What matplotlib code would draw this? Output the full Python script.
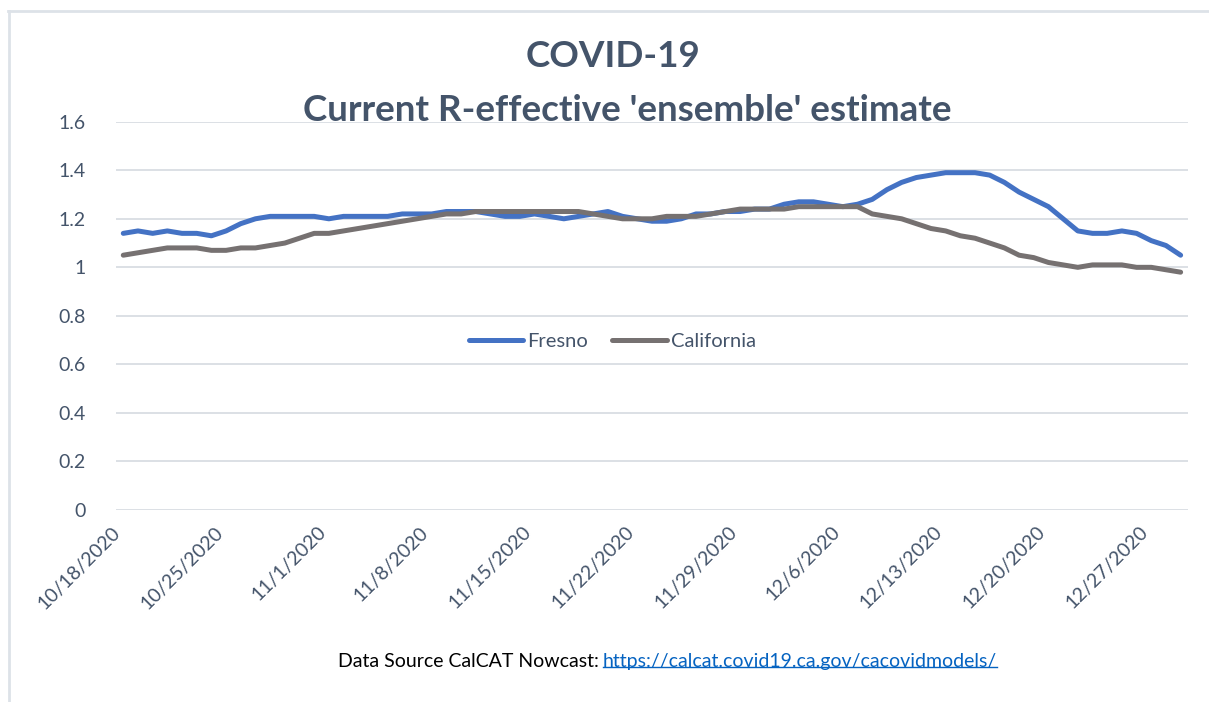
"""COVID-19 R-effective ensemble estimate: Fresno vs California."""

import datetime as dt

import matplotlib.pyplot as plt
import matplotlib.transforms as mtransforms
from matplotlib.lines import Line2D

plt.rcParams["font.family"] = ["Lato", "DejaVu Sans"]

# daily values from 10/18/2020
start = dt.date(2020, 10, 18)
fresno = [
    1.14, 1.15, 1.14, 1.15, 1.14, 1.14, 1.13, 1.15, 1.18, 1.20,
    1.21, 1.21, 1.21, 1.21, 1.20, 1.21, 1.21, 1.21, 1.21, 1.22,
    1.22, 1.22, 1.23, 1.23, 1.23, 1.22, 1.21, 1.21, 1.22, 1.21,
    1.20, 1.21, 1.22, 1.23, 1.21, 1.20, 1.19, 1.19, 1.20, 1.22,
    1.22, 1.23, 1.23, 1.24, 1.24, 1.26, 1.27, 1.27, 1.26, 1.25,
    1.26, 1.28, 1.32, 1.35, 1.37, 1.38, 1.39, 1.39, 1.39, 1.38,
    1.35, 1.31, 1.28, 1.25, 1.20, 1.15, 1.14, 1.14, 1.15, 1.14,
    1.11, 1.09, 1.05,
]
california = [
    1.05, 1.06, 1.07, 1.08, 1.08, 1.08, 1.07, 1.07, 1.08, 1.08,
    1.09, 1.10, 1.12, 1.14, 1.14, 1.15, 1.16, 1.17, 1.18, 1.19,
    1.20, 1.21, 1.22, 1.22, 1.23, 1.23, 1.23, 1.23, 1.23, 1.23,
    1.23, 1.23, 1.22, 1.21, 1.20, 1.20, 1.20, 1.21, 1.21, 1.21,
    1.22, 1.23, 1.24, 1.24, 1.24, 1.24, 1.25, 1.25, 1.25, 1.25,
    1.25, 1.22, 1.21, 1.20, 1.18, 1.16, 1.15, 1.13, 1.12, 1.10,
    1.08, 1.05, 1.04, 1.02, 1.01, 1.00, 1.01, 1.01, 1.01, 1.00,
    1.00, 0.99, 0.98,
]
y_ticks = [0, 0.2, 0.4, 0.6, 0.8, 1, 1.2, 1.4, 1.6]
y_labels = ["0", "0.2", "0.4", "0.6", "0.8", "1", "1.2", "1.4", "1.6"]

days = list(range(len(fresno)))
tick_days = days[::7]
tick_labels = []
for d in tick_days:
    date = start + dt.timedelta(days=d)
    tick_labels.append(f"{date.month}/{date.day}/{date.year}")

TEXT = "#44546A"
GRID = "#D9DDE3"

fig = plt.figure(figsize=(12.09, 7.02), dpi=100)
ax = fig.add_axes([0.0959, 0.2735, 0.8867, 0.5531])

ax.plot(days, fresno, color="#4472C4", lw=3.6, solid_capstyle="round",
        solid_joinstyle="round", label="Fresno")
ax.plot(days, california, color="#767171", lw=3.6, solid_capstyle="round",
        solid_joinstyle="round", label="California")

ax.set_xlim(-0.5, len(days) - 0.5)
ax.set_ylim(0, 1.6)
ax.set_yticks(y_ticks)
ax.set_yticklabels(y_labels)
ax.set_xticks(tick_days)
ax.set_xticklabels(tick_labels, rotation=45, ha="right", va="center",
                   rotation_mode="anchor")
ax.tick_params(axis="both", length=0, labelsize=14, labelcolor=TEXT)
ax.tick_params(axis="x", pad=14)
ax.tick_params(axis="y", pad=22)
shift = mtransforms.ScaledTranslation(-6 / 100, 0, fig.dpi_scale_trans)
for lbl in ax.get_xticklabels():
    lbl.set_transform(lbl.get_transform() + shift)
ax.grid(axis="y", color=GRID, lw=1.3)
ax.set_axisbelow(True)
for s in ax.spines.values():
    s.set_visible(False)

leg = ax.legend(loc="center", bbox_to_anchor=(0.463, 0.435), ncol=2,
                frameon=False, fontsize=14.5, handlelength=2.7,
                handletextpad=0.2, columnspacing=1.2)
for t in leg.get_texts():
    t.set_color(TEXT)

fig.text(0.507, 0.919, "COVID-19", ha="center", va="center",
         fontsize=26.5, fontweight="bold", color=TEXT)
fig.text(0.519, 0.843, "Current R-effective 'ensemble' estimate",
         ha="center", va="center", fontsize=26.5, fontweight="bold", color=TEXT)

# source line, link part blue and underlined
fig.text(0.4955, 0.058, "Data Source CalCAT Nowcast:", ha="right",
         va="center", fontsize=14, color="black")
link = fig.text(0.4985, 0.058, "https://calcat.covid19.ca.gov/cacovidmodels/",
                ha="left", va="center", fontsize=14, color="#0563C1")
fig.canvas.draw()
bb = link.get_window_extent().transformed(fig.transFigure.inverted())
fig.add_artist(Line2D([bb.x0, bb.x1], [bb.y0 + 0.004, bb.y0 + 0.004],
                      color="#0563C1", lw=1, transform=fig.transFigure))

# chart border (top and left only visible)
border = dict(color="#DDE2E8", lw=2, transform=fig.transFigure)
fig.add_artist(Line2D([0.0066, 1.0], [0.9843, 0.9843], **border))
fig.add_artist(Line2D([0.0074, 0.0074], [0.0, 0.9843], **border))

fig.savefig("out.png", dpi=100, facecolor="white")
